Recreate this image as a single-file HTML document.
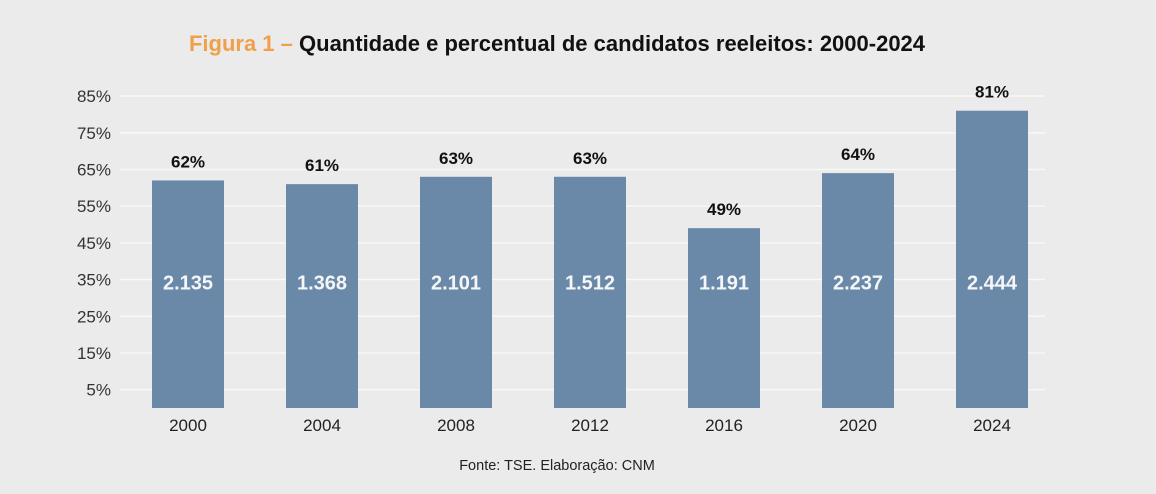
<!DOCTYPE html>
<html><head><meta charset="utf-8">
<style>
html,body{margin:0;padding:0;background:#ebebeb;}
body{width:1156px;height:489px;overflow:hidden;font-family:"Liberation Sans",sans-serif;}
</style></head>
<body>
<svg id="chart" width="1156" height="489" xmlns="http://www.w3.org/2000/svg">
<rect width="1156" height="489" fill="#ebebeb"/>
<text x="557" y="51" text-anchor="middle" font-family="Liberation Sans, sans-serif" font-weight="bold" font-size="22"><tspan fill="#f0a04a">Figura 1 – </tspan><tspan fill="#111">Quantidade e percentual de candidatos reeleitos: 2000-2024</tspan></text>
<g id="grid"></g>
<g id="bars"></g>
<text x="557" y="470" text-anchor="middle" font-size="14.5" fill="#222">Fonte: TSE. Elaboração: CNM</text>
</svg>
<script>
const years = ["2000","2004","2008","2012","2016","2020","2024"];
const percents = [62,61,63,63,49,64,81];
const counts = ["2.135","1.368","2.101","1.512","1.191","2.237","2.444"];
const ticks = [5,15,25,35,45,55,65,75,85];

const NS="http://www.w3.org/2000/svg";
const y0=408, pxPer=3.67;
function yScale(v){return y0 - v*pxPer;}
function xCenter(i){return 188 + i*134;}
const barW=72;
const grid=document.getElementById('grid');
const bars=document.getElementById('bars');
function mk(tag,attrs,parent,txt){const e=document.createElementNS(NS,tag);for(const k in attrs)e.setAttribute(k,attrs[k]);if(txt!==undefined)e.textContent=txt;parent.appendChild(e);return e;}
ticks.forEach(t=>{
  const y=yScale(t);
  const l=mk('line',{x1:120,x2:1045,y1:y,y2:y,stroke:'#f8f8f8','stroke-width':1.5},grid);
  
  
  const tx=mk('text',{x:111,y:y+6,'text-anchor':'end','font-size':17,fill:'#333'},grid,t+'%');
  
  
});
years.forEach((yr,i)=>{
  const cx=xCenter(i), top=yScale(percents[i]);
  const r=mk('rect',{x:cx-barW/2,y:top,width:barW,height:y0-top,fill:'#6a89a8'},bars);
  
  
  const p=mk('text',{x:cx,y:top-13,'text-anchor':'middle','font-size':17,'font-weight':'bold',fill:'#111'},bars,percents[i]+'%');
  
  
  const c=mk('text',{x:cx,y:yScale(32.3),'text-anchor':'middle','font-size':20,'font-weight':'bold',fill:'#f4f6f8'},bars,counts[i]);
  
  
  const xl=mk('text',{x:cx,y:431,'text-anchor':'middle','font-size':17,fill:'#222'},bars,yr);
  
  
});
</script>
</body></html>
